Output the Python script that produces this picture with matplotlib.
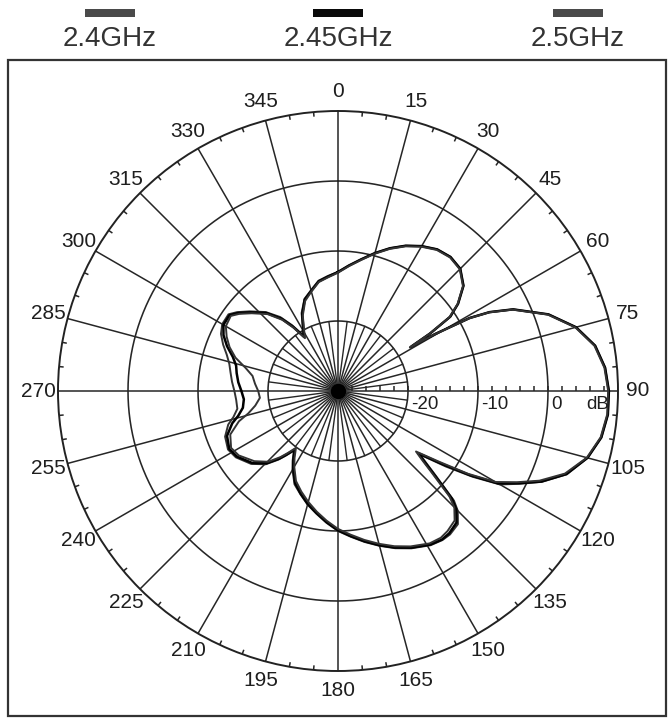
import numpy as np
import matplotlib
matplotlib.use("Agg")
import matplotlib.pyplot as plt
from matplotlib.patches import Rectangle
from matplotlib.transforms import offset_copy

plt.rcParams['font.family'] = ['Liberation Sans', 'DejaVu Sans']

# ---------------- data ----------------
series_names = ["2.4GHz", "2.45GHz", "2.5GHz"]
series_colors = ["#333333", "#000000", "#333333"]
legend_colors = ["#4a4a4a", "#0a0a0a", "#4a4a4a"]

angles_deg = [0, 5, 10, 15, 20, 25, 30, 35, 40, 45,
              50, 54, 56.5, 58, 58.8, 59.6, 61, 62.5, 65, 70,
              75, 80, 85, 90, 95, 100, 105, 110, 114, 117,
              120, 122.5, 125, 127.8, 129.5, 131, 133.4, 135, 138, 142,
              145, 149, 155, 160, 165, 170, 175, 180, 185, 190,
              195, 200, 205, 210, 213, 216.5, 219, 221, 224.6, 230,
              237, 242, 248, 253, 256, 260, 265, 270, 275, 280,
              284, 288, 292, 296, 300, 305, 308, 312, 317.5, 322,
              325, 328, 331, 335, 340, 345, 350, 355, 360]

gain_24 = [-13.0, -12.0, -10.9, -9.6, -8.3, -7.1, -6.1, -5.3, -5.0, -5.3,
           -6.6, -8.8, -10.7, -14.3, -17.7, -13.8, -8.4, -5.6, -2.4, 2.0,
           5.2, 7.3, 8.3, 8.7, 8.7, 8.2, 6.9, 4.8, 1.9, -0.8,
           -3.3, -7.2, -11.2, -15.2, -13.4, -11.4, -7.2, -5.8, -4.4, -4.0,
           -4.0, -4.3, -5.2, -6.1, -7.1, -8.1, -9.1, -10.0, -11.1, -12.2,
           -13.2, -14.3, -15.3, -17.0, -18.1, -19.4, -18.1, -17.0, -15.3, -13.8,
           -12.6, -12.2, -12.6, -13.6, -14.6, -15.4, -15.4, -15.2, -14.8, -14.4,
           -14.0, -13.3, -12.3, -11.4, -10.9, -10.9, -11.7, -13.0, -14.7, -16.6,
           -18.5, -20.6, -19.6, -17.7, -16.0, -15.1, -14.0, -13.5, -13.0]

gain_245 = [-13.0, -12.0, -10.9, -9.6, -8.3, -7.1, -6.1, -5.3, -5.0, -5.3,
            -6.6, -8.8, -10.8, -14.5, -17.9, -14.0, -8.5, -5.6, -2.4, 2.0,
            5.2, 7.3, 8.3, 8.7, 8.7, 8.2, 6.9, 4.7, 1.8, -1.0,
            -3.6, -7.6, -11.8, -15.5, -13.8, -11.8, -7.6, -6.1, -4.7, -4.2,
            -4.1, -4.4, -5.3, -6.2, -7.2, -8.2, -9.2, -10.1, -11.2, -12.3,
            -13.3, -14.4, -15.5, -17.2, -18.3, -19.6, -18.3, -17.2, -15.5, -14.0,
            -12.8, -12.4, -12.9, -14.2, -15.3, -16.2, -16.5, -16.2, -15.7, -15.3,
            -15.0, -14.2, -12.9, -11.8, -11.1, -11.1, -11.9, -13.2, -14.9, -16.9,
            -18.8, -20.9, -19.8, -17.9, -16.1, -15.2, -14.1, -13.6, -13.0]

gain_25 = [-13.1, -12.1, -11.0, -9.7, -8.4, -7.2, -6.2, -5.4, -5.1, -5.4,
           -6.7, -8.9, -10.9, -14.6, -18.0, -14.1, -8.6, -5.7, -2.5, 1.9,
           5.1, 7.2, 8.2, 8.6, 8.6, 8.1, 6.8, 4.5, 1.5, -1.3,
           -4.0, -8.0, -12.4, -15.9, -14.3, -12.3, -8.1, -6.5, -5.1, -4.6,
           -4.4, -4.6, -5.5, -6.4, -7.4, -8.4, -9.4, -10.3, -11.4, -12.5,
           -13.6, -14.7, -15.8, -17.5, -18.6, -19.9, -18.6, -17.5, -15.8, -14.4,
           -13.1, -12.7, -13.4, -15.2, -16.8, -18.0, -18.8, -18.6, -18.1, -17.6,
           -16.4, -14.6, -13.3, -12.3, -11.5, -11.3, -12.1, -13.4, -15.1, -17.1,
           -19.0, -21.1, -20.0, -18.1, -16.3, -15.3, -14.2, -13.7, -13.1]

series_values = [gain_24, gain_245, gain_25]

angle_labels = [str(a) for a in range(0, 360, 15)]
db_tick_labels = ["-20", "-10", "0"]
db_ring_values = [-20, -10, 0]
r_min, r_max = -30, 10

# ---------------- figure ----------------
W, H = 671, 720
fig = plt.figure(figsize=(W / 100, H / 100), dpi=100)

cx, cy, R = 338, 391, 280
ax = fig.add_axes([(cx - R) / W, 1 - (cy + R) / H, 2 * R / W, 2 * R / H],
                  projection='polar')
ax.set_theta_zero_location('N')
ax.set_theta_direction(-1)
ax.set_ylim(r_min, r_max)
ax.grid(False)
ax.set_xticks([])
ax.set_yticks([])
ax.spines['polar'].set_linewidth(1.4)
ax.spines['polar'].set_color('#222222')

grid_c = '#262626'
full = np.linspace(0, 2 * np.pi, 721)
for rv in db_ring_values:
    ax.plot(full, np.full_like(full, rv), color=grid_c, lw=1.15, zorder=1)

for a in range(0, 360, 15):
    t = np.radians(a)
    ax.plot([t, t], [r_min, r_max], color=grid_c, lw=1.1, zorder=1)
    t2 = np.radians(a + 7.5)
    ax.plot([t2, t2], [r_min, -20], color=grid_c, lw=1.0, zorder=1)

# small ticks on outer circle every 5 degrees
for a in range(0, 360, 5):
    if a % 15 == 0:
        continue
    t = np.radians(a)
    ax.plot([t, t], [r_max - 0.55, r_max], color=grid_c, lw=1.1, zorder=1)

# ticks along the 90-degree axis every 2 dB
tick_r = [v for v in range(-28, 10, 2)]
ax.plot(np.full(len(tick_r), np.pi / 2), tick_r, linestyle='none',
        marker=[(0, 0), (0, 1)], markersize=7, markeredgewidth=1.1,
        color=grid_c, zorder=2)

# pattern curves
th = np.radians(angles_deg)
for vals, col, lw in zip(series_values, series_colors, [1.4, 1.8, 1.4]):
    ax.plot(th, vals, color=col, lw=lw, zorder=3, solid_joinstyle='round')

# center blob
ax.plot([0], [r_min], 'o', color='black', markersize=10, zorder=4)

# angle labels
for lab in angle_labels:
    t = np.radians(float(lab))
    ax.text(t, 12.8, lab, ha='center', va='center', fontsize=15,
            color='#1e1e1e', clip_on=False)

# dB labels
tr = offset_copy(ax.transData, fig=fig, x=3, y=-5, units='dots')
for lab, rv in zip(db_tick_labels, db_ring_values):
    ax.text(np.pi / 2, rv, lab, transform=tr, ha='left', va='top',
            fontsize=13.5, color='#1e1e1e')
ax.text(np.pi / 2, 5.1, "dB", transform=tr, ha='left', va='top',
        fontsize=13.5, color='#1e1e1e')

# frame
fig.add_artist(Rectangle((8 / W, 1 - 716 / H), (666 - 8) / W, (716 - 60) / H,
                         transform=fig.transFigure, fill=False,
                         edgecolor='#333333', lw=1.6))

# legend
leg_x = [110, 338, 578]
for name, col, x in zip(series_names, legend_colors, leg_x):
    bw, bh, by = 50, 8, 13
    fig.add_artist(Rectangle(((x - bw / 2) / W, 1 - (by + bh / 2) / H), bw / W, bh / H,
                             transform=fig.transFigure, color=col, lw=0))
    fig.text(x / W, 1 - 39 / H, name, ha='center', va='center', fontsize=20,
             color='#333333')

fig.savefig("out.png", dpi=100)
